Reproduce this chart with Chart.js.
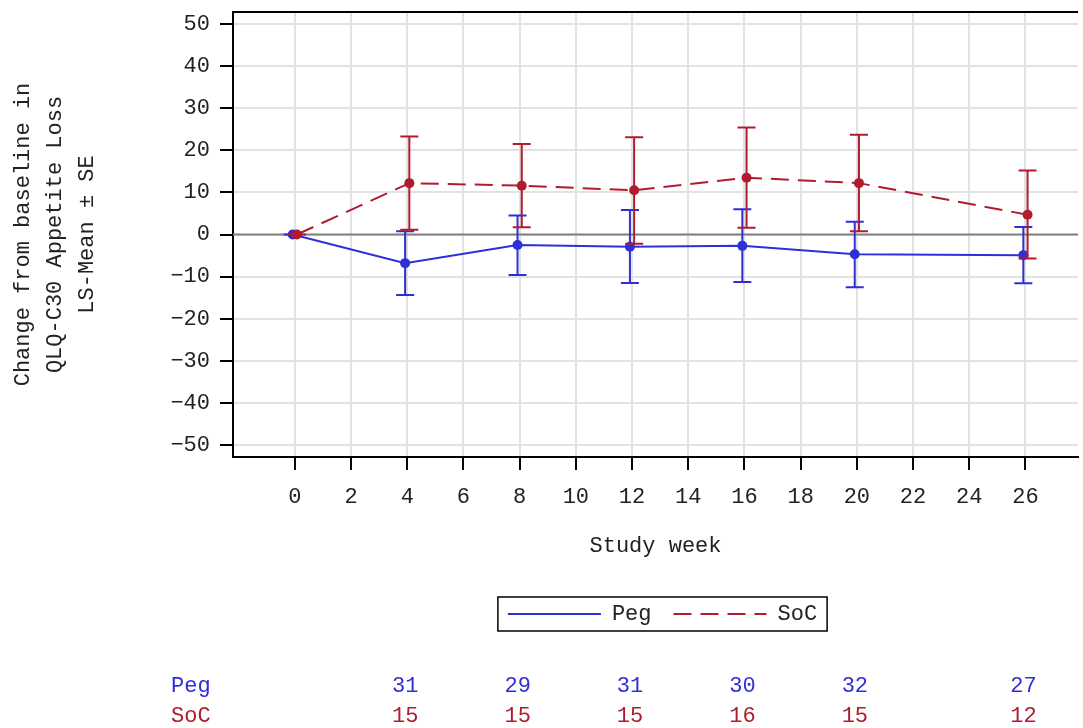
<!DOCTYPE html>
<html>
<head>
<meta charset="utf-8">
<script src="https://cdn.jsdelivr.net/npm/chart.js@4.4.1/dist/chart.umd.min.js"></script>
<style>
  html, body { margin: 0; padding: 0; background: #fff; }
  #wrap { width: 1083px; height: 728px; }
</style>
</head>
<body>
<div id="wrap"><canvas id="qlqChart" width="1083" height="728"></canvas></div>
<script>
const weeks = [0, 4, 8, 12, 16, 20, 26];
const pegMean = [0, -6.8, -2.5, -2.9, -2.7, -4.7, -4.9];
const pegUpper = [0, 0.8, 4.5, 5.8, 6.0, 3.0, 1.8];
const pegLower = [0, -14.4, -9.6, -11.5, -11.3, -12.5, -11.6];
const socMean = [0, 12.2, 11.6, 10.5, 13.5, 12.2, 4.7];
const socUpper = [0, 23.3, 21.5, 23.1, 25.4, 23.7, 15.2];
const socLower = [0, 1.1, 1.7, -2.2, 1.6, 0.8, -5.7];

const xTicks = [0, 2, 4, 6, 8, 10, 12, 14, 16, 18, 20, 22, 24, 26];
const yTicks = [-50, -40, -30, -20, -10, 0, 10, 20, 30, 40, 50];

const riskWeeks = [4, 8, 12, 16, 20, 26];
const pegN = [31, 29, 31, 30, 32, 27];
const socN = [15, 15, 15, 16, 15, 12];

const FONT = "'Liberation Mono', 'Courier New', monospace";
const BLUE = "#2f2fd9";
const RED = "#b01c2e";
const JITTER = 0.075;

const toPoints = (vals, shift) => vals.map((v, i) => ({ x: weeks[i] + shift, y: v }));

// SE whiskers, drawn under each dataset's line and markers
const errorBars = {
  id: "errorBars",
  beforeDatasetDraw(chart, args) {
    const ds = chart.data.datasets[args.index];
    if (!ds.errLower) return;
    const { ctx } = chart;
    const y = chart.scales.y;
    ctx.save();
    ctx.strokeStyle = ds.borderColor;
    ctx.lineWidth = 2;
    ctx.setLineDash([]);
    args.meta.data.forEach((pt, i) => {
      const top = y.getPixelForValue(ds.errUpper[i]);
      const bot = y.getPixelForValue(ds.errLower[i]);
      ctx.beginPath();
      ctx.moveTo(pt.x, top);
      ctx.lineTo(pt.x, bot);
      ctx.moveTo(pt.x - 9, top);
      ctx.lineTo(pt.x + 9, top);
      ctx.moveTo(pt.x - 9, bot);
      ctx.lineTo(pt.x + 9, bot);
      ctx.stroke();
    });
    ctx.restore();
  }
};

const zeroLine = {
  id: "zeroLine",
  beforeDatasetsDraw(chart) {
    const { ctx, chartArea } = chart;
    const y0 = chart.scales.y.getPixelForValue(0);
    ctx.save();
    ctx.strokeStyle = "#808080";
    ctx.lineWidth = 2;
    ctx.beginPath();
    ctx.moveTo(chartArea.left, y0);
    ctx.lineTo(chartArea.right, y0);
    ctx.stroke();
    ctx.restore();
  }
};

// nudge legend a little right, like the original
const legendNudge = {
  id: "legendNudge",
  afterLayout(chart) {
    chart.legend.left += 7;
    chart.legend.right += 7;
  }
};

const frameAndTable = {
  id: "frameAndTable",
  afterDraw(chart) {
    const { ctx, chartArea } = chart;
    ctx.save();
    // top border of the plot
    ctx.strokeStyle = "#000";
    ctx.lineWidth = 2;
    ctx.beginPath();
    ctx.moveTo(chartArea.left - 1, chartArea.top);
    ctx.lineTo(chartArea.right, chartArea.top);
    ctx.stroke();

    // box round the legend
    const boxes = chart.legend.legendHitBoxes;
    if (boxes && boxes.length) {
      const left = Math.min(...boxes.map(b => b.left)) - 10;
      const right = Math.max(...boxes.map(b => b.left + b.width)) + 10;
      const top = boxes[0].top - 6;
      const bottom = boxes[0].top + boxes[0].height + 6;
      ctx.lineWidth = 1.5;
      ctx.strokeRect(left, top, right - left, bottom - top);
    }

    // numbers at risk
    const x = chart.scales.x;
    ctx.font = `22px ${FONT}`;
    ctx.textBaseline = "middle";
    const rows = [
      { label: "Peg", values: pegN, color: BLUE, y: 686 },
      { label: "SoC", values: socN, color: RED, y: 716 }
    ];
    rows.forEach(row => {
      ctx.fillStyle = row.color;
      ctx.textAlign = "left";
      ctx.fillText(row.label, 171, row.y);
      ctx.textAlign = "center";
      row.values.forEach((n, i) => {
        ctx.fillText(String(n), x.getPixelForValue(riskWeeks[i]) - 2, row.y);
      });
    });
    ctx.restore();
  }
};

const baseLabels = Chart.defaults.plugins.legend.labels.generateLabels;

new Chart(document.getElementById("qlqChart"), {
  type: "line",
  data: {
    datasets: [
      {
        label: "Peg",
        data: toPoints(pegMean, -JITTER),
        errLower: pegLower,
        errUpper: pegUpper,
        borderColor: BLUE,
        backgroundColor: BLUE,
        borderWidth: 2,
        pointRadius: 5,
        pointBorderWidth: 0,
        pointBackgroundColor: BLUE,
        tension: 0,
        order: 2
      },
      {
        label: "SoC",
        data: toPoints(socMean, JITTER),
        errLower: socLower,
        errUpper: socUpper,
        borderColor: RED,
        backgroundColor: RED,
        borderWidth: 2,
        borderDash: [18, 9],
        pointRadius: 5,
        pointBorderWidth: 0,
        pointBackgroundColor: RED,
        tension: 0,
        order: 1
      }
    ]
  },
  options: {
    responsive: false,
    animation: false,
    layout: { padding: { top: 12, bottom: 93, left: 0, right: 0 } },
    plugins: {
      legend: {
        position: "bottom",
        fullSize: false,
        labels: {
          usePointStyle: true,
          pointStyle: "line",
          pointStyleWidth: 93,
          padding: 22,
          color: "#222",
          font: { family: FONT, size: 22 },
          sort: (a, b) => a.datasetIndex - b.datasetIndex,
          generateLabels: chart => baseLabels(chart).map(item => {
            const ds = chart.data.datasets[item.datasetIndex];
            item.lineWidth = 2;
            item.strokeStyle = ds.borderColor;
            item.lineDash = ds.borderDash || [];
            return item;
          })
        }
      },
      tooltip: { enabled: false }
    },
    scales: {
      x: {
        type: "linear",
        min: -2.2,
        max: 27.87,
        afterBuildTicks: s => { s.ticks = xTicks.map(v => ({ value: v })); },
        afterFit: s => { s.height = 124; s.paddingLeft = 0; s.paddingRight = 0; },
        grid: { color: "#e2e2e2", lineWidth: 2, tickColor: "#000", tickLength: 13, tickWidth: 2 },
        border: { color: "#000", width: 2 },
        ticks: { color: "#222", padding: 14, font: { family: FONT, size: 22 }, maxRotation: 0 },
        title: {
          display: true,
          text: "Study week",
          color: "#222",
          font: { family: FONT, size: 22 },
          padding: { top: 0, bottom: 22 }
        }
      },
      y: {
        min: -52.85,
        max: 52.85,
        afterBuildTicks: s => { s.ticks = yTicks.map(v => ({ value: v })); },
        afterFit: s => { s.width = 233; s.paddingTop = 0; s.paddingBottom = 0; },
        grid: { color: "#e2e2e2", lineWidth: 2, tickColor: "#000", tickLength: 13, tickWidth: 2 },
        border: { color: "#000", width: 2 },
        ticks: {
          color: "#222",
          padding: 10,
          font: { family: FONT, size: 22 },
          callback: v => (v < 0 ? "\u2212" + Math.abs(v) : String(v))
        },
        title: {
          display: true,
          text: ["Change from baseline in", "QLQ-C30 Appetite Loss", "LS-Mean \u00b1 SE"],
          color: "#222",
          font: { family: FONT, size: 22, lineHeight: 1.45 },
          padding: { top: 7, bottom: 0 }
        }
      }
    }
  },
  plugins: [legendNudge, zeroLine, errorBars, frameAndTable]
});
</script>
</body>
</html>
